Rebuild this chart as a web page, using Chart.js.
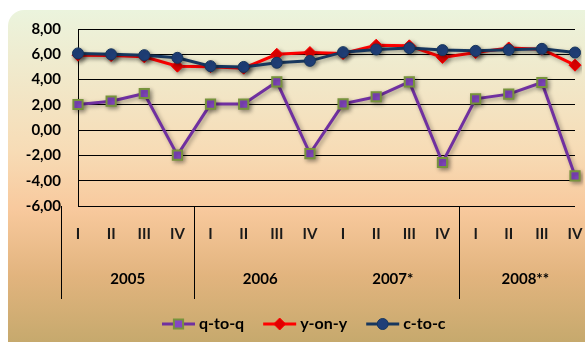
<!DOCTYPE html>
<html>
<head>
<meta charset="utf-8">
<script src="https://cdn.jsdelivr.net/npm/chart.js@4.4.1/dist/chart.umd.min.js"></script>
<style>
  html, body { margin: 0; padding: 0; background: #fff; }
  #wrap { width: 585px; height: 342px; position: relative; }
</style>
</head>
<body>
<div id="wrap"><canvas id="chart" width="585" height="342"></canvas></div>
<script>
// Quarter labels and year groups
const quarters = ['I', 'II', 'III', 'IV', 'I', 'II', 'III', 'IV', 'I', 'II', 'III', 'IV', 'I', 'II', 'III', 'IV'];
const years = ['2005', '2006', '2007*', '2008**'];
const quartersPerYear = 4;
// group boundaries (category index) that get a separator line; 8 has none in the original
const separatorsAt = [0, 4, 12, 16];

// Series values
const qToQ = [2.03, 2.29, 2.90, -1.98, 2.06, 2.06, 3.82, -1.85, 2.08, 2.64, 3.82, -2.56, 2.48, 2.85, 3.77, -3.61];
const yOnY = [5.93, 5.90, 5.80, 5.06, 5.02, 4.90, 6.00, 6.14, 6.06, 6.72, 6.67, 5.75, 6.14, 6.50, 6.40, 5.14];
const cToC = [6.07, 6.00, 5.93, 5.72, 5.06, 5.00, 5.33, 5.48, 6.17, 6.38, 6.49, 6.33, 6.27, 6.35, 6.43, 6.14];

const yMin = -6, yMax = 8, yStep = 2;
const fontFamily = 'Lato, "Open Sans", sans-serif';

// Background panel, year row, separators and legend
const decorPlugin = {
  id: 'decor',
  beforeDraw(chart) {
    const ctx = chart.ctx;
    const w = chart.width, h = chart.height;
    const g = ctx.createLinearGradient(0, 10, 0, h);
    g.addColorStop(0, '#ebf4dd');
    g.addColorStop(0.42, '#f7dcb6');
    g.addColorStop(0.6, '#f8c99d');
    g.addColorStop(0.8, '#e2b47e');
    g.addColorStop(1, '#c6a96d');
    ctx.save();
    ctx.fillStyle = g;
    ctx.beginPath();
    ctx.roundRect(8, 10, w + 20, h + 20, 16);
    ctx.fill();
    ctx.restore();
  },
  beforeDatasetsDraw(chart) {
    const ctx = chart.ctx;
    ctx.save();
    ctx.shadowColor = 'rgba(0,0,0,0.35)';
    ctx.shadowBlur = 4;
    ctx.shadowOffsetX = 2;
    ctx.shadowOffsetY = 2;
  },
  afterDatasetsDraw(chart) {
    chart.ctx.restore();
  },
  afterDraw(chart) {
    const ctx = chart.ctx;
    const x = chart.scales.x;
    const area = chart.chartArea;
    const lineBottom = area.bottom + 93;
    const step = x.getPixelForValue(1) - x.getPixelForValue(0);
    const edge = (i) => x.getPixelForValue(0) - step / 2 + i * step;

    ctx.save();
    // separators between years
    ctx.lineWidth = 1;
    separatorsAt.forEach((i) => {
      const px = Math.round(edge(i)) + 0.5;
      ctx.beginPath();
      ctx.moveTo(px, i === 16 ? area.top : area.bottom);
      ctx.lineTo(px, lineBottom);
      ctx.strokeStyle = i === 16 ? '#3b3530' : '#000';
      ctx.stroke();
    });

    // year labels
    ctx.fillStyle = '#000';
    ctx.font = 'bold 15px ' + fontFamily;
    ctx.textAlign = 'center';
    ctx.textBaseline = 'middle';
    years.forEach((label, k) => {
      const cx = (edge(k * quartersPerYear) + edge((k + 1) * quartersPerYear)) / 2;
      ctx.fillText(label, cx, area.bottom + 73);
    });

    // legend: line + marker + text, like the spreadsheet legend
    const ly = 324;
    let lx = 162;
    ctx.font = 'bold 16px ' + fontFamily;
    ctx.textAlign = 'left';
    chart.data.datasets.forEach((ds) => {
      ctx.strokeStyle = ds.borderColor;
      ctx.lineWidth = ds.borderWidth;
      ctx.beginPath();
      ctx.moveTo(lx, ly);
      ctx.lineTo(lx + 33, ly);
      ctx.stroke();
      ctx.fillStyle = ds.pointBackgroundColor;
      ctx.strokeStyle = ds.pointBorderColor;
      ctx.lineWidth = ds.pointBorderWidth;
      Chart.helpers.drawPoint(ctx, {
        pointStyle: ds.pointStyle,
        radius: ds.pointRadius,
        borderWidth: ds.pointBorderWidth,
        rotation: 0
      }, lx + 16.5, ly);
      ctx.fillStyle = '#000';
      ctx.fillText(ds.label, lx + 37, ly);
      lx += 37 + ctx.measureText(ds.label).width + 19;
    });
    ctx.restore();
  }
};

const chart = new Chart(document.getElementById('chart').getContext('2d'), {
  type: 'line',
  data: {
    labels: quarters,
    datasets: [
      {
        label: 'q-to-q',
        data: qToQ,
        borderColor: '#7030a0',
        borderWidth: 3,
        pointStyle: 'rect',
        pointRadius: 6.5,
        pointBackgroundColor: '#8547c4',
        pointBorderColor: '#77933c',
        pointBorderWidth: 2,
        order: 3
      },
      {
        label: 'y-on-y',
        data: yOnY,
        borderColor: '#ff0000',
        borderWidth: 3,
        pointStyle: 'rectRot',
        pointRadius: 6,
        pointBackgroundColor: '#e00000',
        pointBorderColor: '#ff0000',
        pointBorderWidth: 1,
        order: 2
      },
      {
        label: 'c-to-c',
        data: cToC,
        borderColor: '#17375e',
        borderWidth: 3,
        pointStyle: 'circle',
        pointRadius: 5.5,
        pointBackgroundColor: '#1f3f78',
        pointBorderColor: '#17375e',
        pointBorderWidth: 1,
        order: 1
      }
    ]
  },
  options: {
    responsive: false,
    animation: false,
    layout: { padding: { left: 0, right: 10, top: 29, bottom: 0 } },
    scales: {
      x: {
        type: 'category',
        // hidden tick marks still push the labels down without adding side padding
        grid: { display: false, drawTicks: true, tickLength: 19 },
        border: { display: false },
        ticks: {
          color: '#1a1a1a',
          font: { family: fontFamily, size: 15, weight: 'bold' },
          padding: 0,
          maxRotation: 0,
          autoSkip: false
        },
        afterFit(scale) { scale.height = 136; }
      },
      y: {
        min: yMin,
        max: yMax,
        grid: { color: '#000', lineWidth: 1, drawTicks: false },
        border: { display: true, color: '#000', width: 1 },
        ticks: {
          stepSize: yStep,
          color: '#000',
          padding: 17,
          font: { family: fontFamily, size: 15, weight: 'bold' },
          callback: (v) => v.toFixed(2).replace('.', ',')
        },
        afterFit(scale) { scale.width = 78; }
      }
    },
    plugins: {
      legend: { display: false },
      tooltip: { enabled: false }
    }
  },
  plugins: [decorPlugin]
});
</script>
</body>
</html>
